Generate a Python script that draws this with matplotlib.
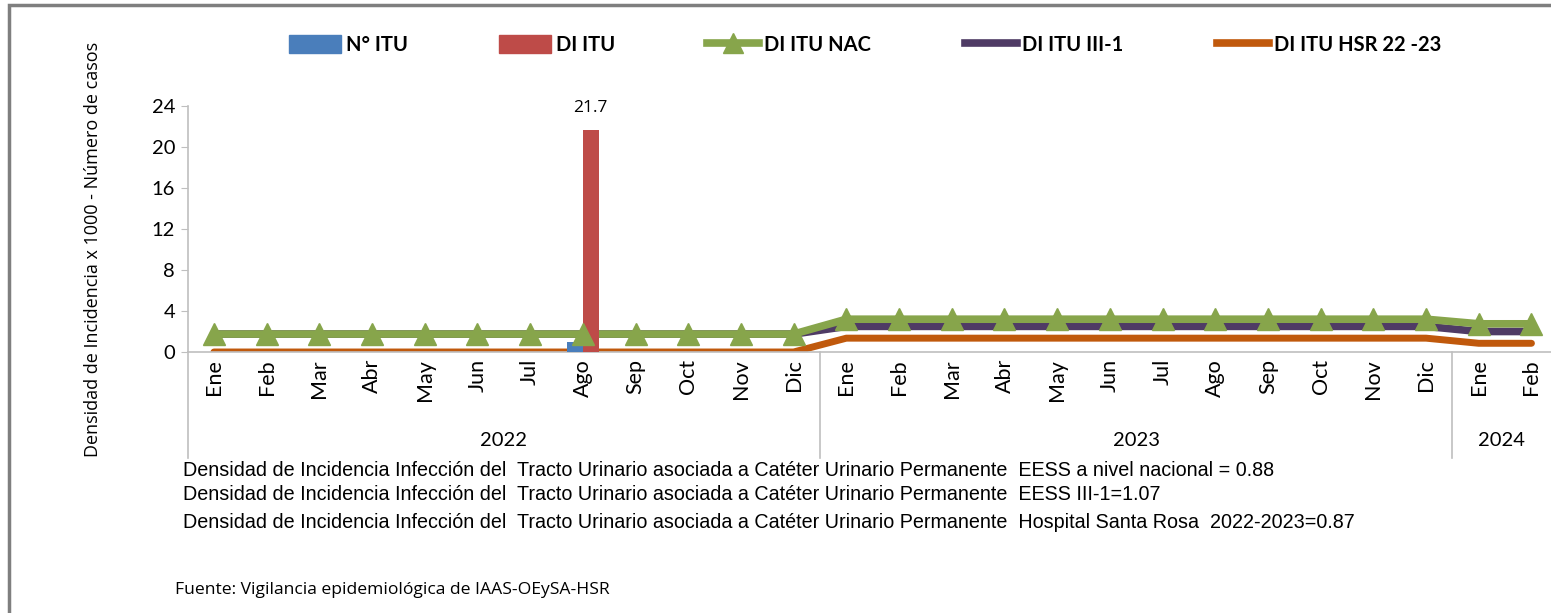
import matplotlib
matplotlib.use("Agg")
import matplotlib.pyplot as plt
from matplotlib.lines import Line2D
from matplotlib.patches import Patch, Rectangle
import matplotlib.transforms as mtransforms
import numpy as np

months = ["Ene", "Feb", "Mar", "Abr", "May", "Jun", "Jul", "Ago", "Sep", "Oct", "Nov", "Dic",
          "Ene", "Feb", "Mar", "Abr", "May", "Jun", "Jul", "Ago", "Sep", "Oct", "Nov", "Dic",
          "Ene", "Feb"]
years = ["2022", "2023", "2024"]
year_counts = [12, 12, 2]

n_itu = [0, 0, 0, 0, 0, 0, 0, 1, 0, 0, 0, 0,
         0, 0, 0, 0, 0, 0, 0, 0, 0, 0, 0, 0, 0, 0]
di_itu = [0, 0, 0, 0, 0, 0, 0, 21.7, 0, 0, 0, 0,
          0, 0, 0, 0, 0, 0, 0, 0, 0, 0, 0, 0, 0, 0]
di_nac = [1.75] * 12 + [3.2] * 12 + [2.75] * 2
di_iii1 = [1.75] * 12 + [2.5] * 12 + [2.0] * 2
di_hsr = [0.0] * 12 + [1.35] * 12 + [0.85] * 2

footer_lines = [
    "Densidad de Incidencia Infección del  Tracto Urinario asociada a Catéter Urinario Permanente  EESS a nivel nacional = 0.88",
    "Densidad de Incidencia Infección del  Tracto Urinario asociada a Catéter Urinario Permanente  EESS III-1=1.07",
    "Densidad de Incidencia Infección del  Tracto Urinario asociada a Catéter Urinario Permanente  Hospital Santa Rosa  2022-2023=0.87",
]
source = "Fuente: Vigilancia epidemiológica de IAAS-OEySA-HSR"

W, H = 1551, 613
plt.rcParams['font.family'] = ['Lato', 'DejaVu Sans']
fig = plt.figure(figsize=(W / 100, H / 100), dpi=100)

def fx(px):
    return px / W

def fy(py):
    return 1 - py / H

# outer frame
fig.patches.append(Rectangle((fx(9), -0.05), 1.2, fy(5) + 0.05, transform=fig.transFigure,
                             fill=False, edgecolor="#7f7f7f", linewidth=2.5, zorder=0))

ax_l, ax_r, ax_t, ax_b = 187.6, 1557.8, 106, 352
ax = fig.add_axes([fx(ax_l), fy(ax_b), fx(ax_r - ax_l), (ax_b - ax_t) / H])
x = np.arange(len(months))
bw = 0.3

ax.plot(x, di_hsr, color="#c0590c", lw=5, zorder=2, solid_capstyle="round")
ax.plot(x, di_iii1, color="#4f3b65", lw=5.5, zorder=3, solid_capstyle="round")
ax.plot(x, di_nac, color="#87a54b", lw=5.5, zorder=4, solid_capstyle="round")
ax.bar(x - bw / 2, n_itu, width=bw, color="#4a7ebb", zorder=5)
ax.bar(x + bw / 2, di_itu, width=bw, color="#be4b48", zorder=5)
ax.plot(x, di_nac, linestyle="none", color="#87a54b", marker="^", markersize=16, zorder=6)
for xi, v in zip(x, di_itu):
    if v > 0:
        ax.text(xi + bw / 2, v + 1.3, f"{v:.1f}", ha="center", va="bottom", fontsize=12.5,
                family=["Open Sans", "DejaVu Sans"])

ax.set_xlim(-0.5, len(months) - 0.5)
ax.set_ylim(0, 24)
ax.set_yticks(range(0, 25, 4))
ax.tick_params(axis="y", labelsize=14.5, length=5, color="#bfbfbf", pad=4)
ax.set_xticks(x)
ax.set_xticklabels(months, rotation=90, fontsize=15.5)
ax.tick_params(axis="x", length=0, pad=5)
for s in ["top", "right"]:
    ax.spines[s].set_visible(False)
for s in ["left", "bottom"]:
    ax.spines[s].set_color("#bfbfbf")
    ax.spines[s].set_linewidth(1.2)

trans = mtransforms.blended_transform_factory(ax.transData, ax.transAxes)
bottom_frac = -(458 - ax_b) / (ax_b - ax_t)
bounds = [-0.5]
for c in year_counts:
    bounds.append(bounds[-1] + c)
for b in bounds[:-1]:
    ax.add_line(Line2D([b, b], [0, bottom_frac], transform=trans, color="#bfbfbf", lw=1.2, clip_on=False))
year_y = -(441 - ax_b) / (ax_b - ax_t)
for i, yr in enumerate(years):
    xc = (bounds[i] + min(bounds[i + 1], len(months) - 0.5 - 0.12)) / 2
    ax.text(xc, year_y, yr, transform=trans, ha="center", va="center", fontsize=14.5)

fig.text(fx(93), fy(249), "Densidad de Incidencia x 1000 - Número de casos", rotation=90,
         ha="center", va="center", fontsize=13, family=["Open Sans", "DejaVu Sans"])

# legend
leg_y = fy(45)
handles = [
    Patch(color="#4a7ebb"),
    Patch(color="#be4b48"),
    Line2D([], [], color="#87a54b", lw=5.5, marker="^", markersize=15),
    Line2D([], [], color="#4f3b65", lw=5.5),
    Line2D([], [], color="#c0590c", lw=5.5),
]
labels = ["N° ITU", "DI ITU", "DI ITU NAC", "DI ITU III-1", "DI ITU HSR 22 -23"]
xpos = [289, 499, 707, 965, 1217]
for hnd, lab, xp in zip(handles, labels, xpos):
    fig.legend([hnd], [lab], loc="center left", bbox_to_anchor=(fx(xp), leg_y),
               frameon=False, handlelength=2.6, handleheight=0.95, handletextpad=0.25,
               borderpad=0, borderaxespad=0,
               prop={"family": "Lato", "weight": "bold", "size": 14.5})

foot_font = ["Liberation Sans", "DejaVu Sans"]
for ty, t in zip([470, 494, 522], footer_lines):
    fig.text(fx(183), fy(ty), t, ha="left", va="center", fontsize=14.2, family=foot_font)
fig.text(fx(175), fy(590), source, ha="left", va="center", fontsize=12.6, family=["Open Sans", "DejaVu Sans"])

fig.savefig("out.png", dpi=100)
